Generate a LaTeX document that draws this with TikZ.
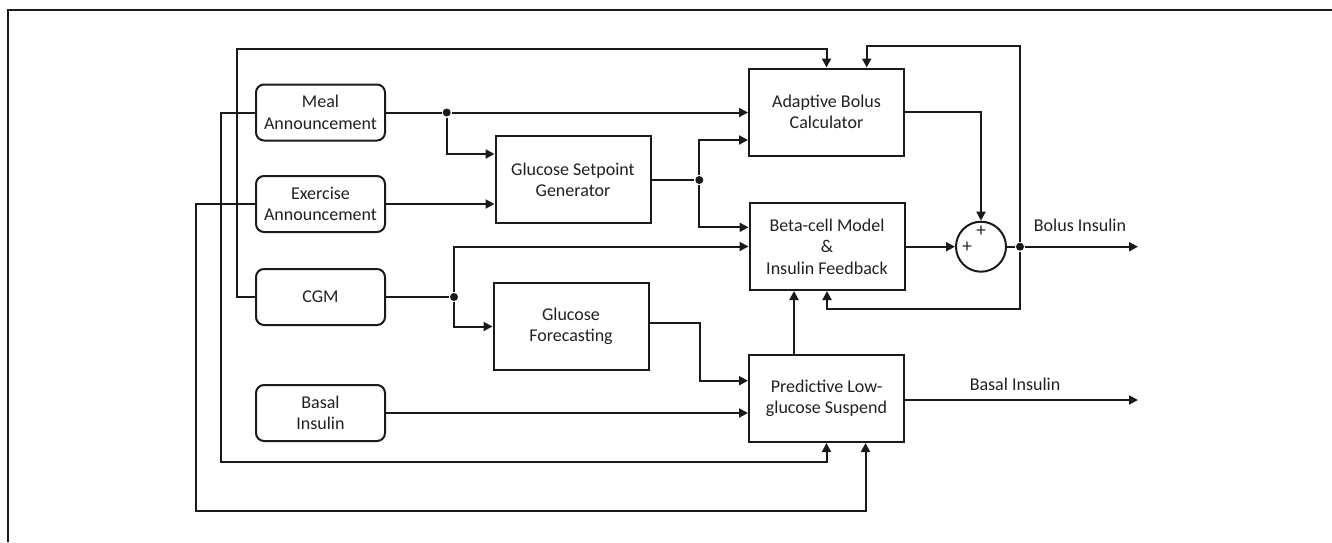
\documentclass[tikz,border=0pt]{standalone}
\usepackage{fontspec}
\setmainfont{Carlito}
\usetikzlibrary{arrows.meta,calc}
\definecolor{textc}{HTML}{231F20}
\definecolor{linec}{HTML}{1A1A1A}
\begin{document}
\begin{tikzpicture}[x=1pt,y=-1pt,
  line width=2pt, draw=linec,
  font=\fontsize{18}{21.5}\selectfont,
  rbox/.style={draw=linec, rounded corners=8pt, minimum width=129pt, minimum height=56pt, align=center, inner sep=0pt, text=textc},
  sbox/.style={draw=linec, minimum width=155pt, minimum height=87pt, align=center, inner sep=0pt, text=textc},
  arr/.style={-{Triangle[length=9pt,width=9pt]}},
  dot/.style={circle, fill=linec, inner sep=0pt, minimum size=8pt},
  lbl/.style={text=textc, inner sep=0pt},
  plus/.style={text=textc, inner sep=0pt, font=\fontsize{19}{19}\selectfont}
]
\useasboundingbox (0,0) rectangle (1332,542);
% frame
\draw[line width=2pt, linec] (8,542) -- (8,10) -- (1332,10);

% nodes
\node[rbox] (meal) at (320.5,112.5) {Meal\\Announcement};
\node[rbox] (exer) at (320.5,204) {Exercise\\Announcement};
\node[rbox] (cgm) at (320.5,297) {CGM};
\node[rbox] (basal) at (320.5,413) {Basal\\Insulin};
\node[sbox] (setp) at (573,179.7) {Glucose Setpoint\\Generator};
\node[sbox] (gf) at (571,326.5) {Glucose\\Forecasting};
\node[sbox] (abc) at (826.5,112) {Adaptive Bolus\\Calculator};
\node[sbox] (beta) at (827,246.5) {Beta-cell Model\\\&\\Insulin Feedback};
\node[sbox] (plgs) at (826.5,398.5) {Predictive Low-\\glucose Suspend};
\node[draw=linec, circle, minimum size=50pt, inner sep=0pt] (sum) at (981,246.7) {};
\node[plus] (p1) at (981,231) {+};
\node[plus] (p2) at (967,247.5) {+};

% dots
\node[dot] (dm) at (446.7,112.5) {};
\node[dot] (ds) at (699.3,180) {};
\node[dot] (dc) at (454,297) {};
\node[dot] (dout) at (1020,246.7) {};
\coordinate (bo) at (1138,246.7);
\coordinate (ba) at (1138,400);

% CGM feedback to adaptive bolus
\draw[arr] (cgm.west) -- ++(-18.5,0) |- ($(abc.north)+(0,-18.3)$) -- (abc.north);

% bolus feedback loops
\draw[arr] (dout) |- ($(abc.north)+(40.2,-21.6)$) -- ($(abc.north)+(40.2,0)$);
\draw[arr] (dout) |- ($(beta.south)+(0,18.3)$) -- (beta.south);

% meal
\draw (meal.east) -- (dm);
\draw[arr] (dm) -- (abc.west |- dm);
\draw[arr] (dm) |- ($(setp.west)+(0,-25.7)$);

% exercise
\draw[arr] (exer.east) -- (setp.west |- exer.east);

% setpoint
\draw (setp.east |- ds) -- (ds);
\draw[arr] (ds) |- ($(abc.west)+(0,28)$);
\draw[arr] (ds) |- ($(beta.west)+(0,-19.2)$);

% CGM
\draw (cgm.east) -- (dc);
\draw[arr] (dc) |- (beta.west);
\draw[arr] (dc) |- (gf.west);

% forecasting to PLGS
\draw[arr] ($(gf.east)+(0,-4)$) -- ++(50.7,0) |- ($(plgs.west)+(0,-17.8)$);

% basal
\draw[arr] (basal.east) -- (plgs.west |- basal.east);

% PLGS to beta
\draw[arr] ($(plgs.north)+(-32.5,0)$) -- ($(beta.south)+(-33,0)$);

% beta to sum, abc to sum
\draw[arr] (beta.east |- sum.west) -- (sum.west);
\draw[arr] (abc.east) -| (sum.north);

% outputs
\draw (sum.east) -- (dout);
\draw[arr] (dout) -- (bo);
\node[lbl] (bl) at (1080,225) {Bolus Insulin};
\draw[arr] ($(plgs.east)+(0,1.5)$) -- (ba);
\node[lbl] (bal) at (1015,384) {Basal Insulin};

% announcements to PLGS bottom
\draw[arr] (meal.west) -- ++(-34,0) |- ($(plgs.south)+(0,18.5)$) -- (plgs.south);
\draw[arr] (exer.west) -- ++(-59.3,0) |- ($(plgs.south)+(39,67.5)$) -- ($(plgs.south)+(39,0)$);
\end{tikzpicture}
\end{document}
